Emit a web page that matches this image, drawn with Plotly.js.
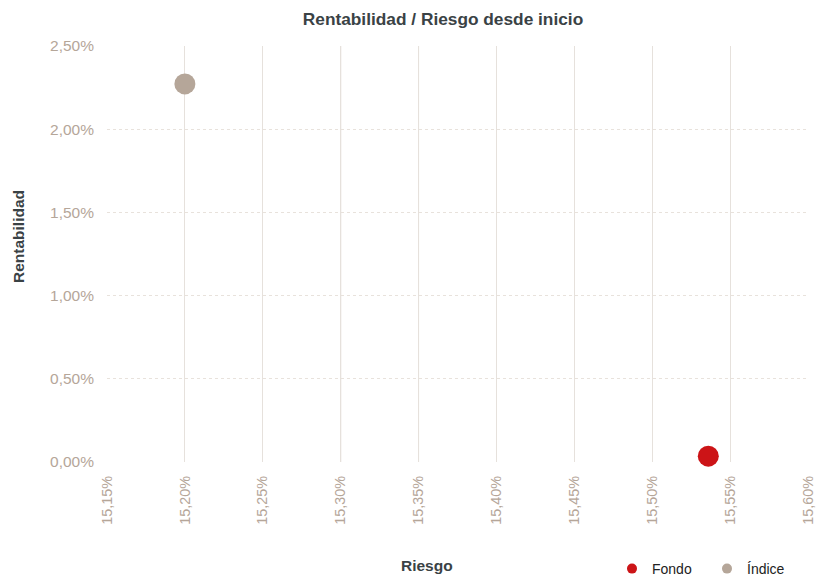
<!DOCTYPE html>
<html><head><meta charset="utf-8">
<script src="https://cdn.plot.ly/plotly-3.0.1.min.js"></script>
<style>html,body{margin:0;padding:0;background:#fff}#chart{width:827px;height:576px}</style>
</head><body><div id="chart"></div>
<script>
const seriesNames = ["Fondo", "Índice"];
const riesgo = [15.536, 15.20];
const rentabilidad = [0.035, 2.272];
const seriesColors = ["#cc1417", "#b5a699"];
const xTicks = [15.15, 15.20, 15.25, 15.30, 15.35, 15.40, 15.45, 15.50, 15.55, 15.60];
const yTicks = [0, 0.5, 1.0, 1.5, 2.0, 2.5];
const darkGridX = [15.30, 15.35];

const fmt = v => v.toFixed(2).replace(".", ",") + "%";
const FONT = "Liberation Sans, Arial, sans-serif";

const traces = seriesNames.map((n, i) => ({
  type: "scatter", mode: "markers", name: n, showlegend: false,
  x: [riesgo[i]], y: [rentabilidad[i]],
  marker: {color: seriesColors[i], size: 21},
  cliponaxis: false
})).concat(seriesNames.map((n, i) => ({
  type: "scatter", mode: "markers", name: n, showlegend: true,
  x: [null], y: [null],
  marker: {color: seriesColors[i], size: 10}
})));

const layout = {
  width: 827, height: 576,
  margin: {l: 107, r: 19, t: 46, b: 114},
  paper_bgcolor: "#fff", plot_bgcolor: "#fff",
  showlegend: true,
  legend: {orientation: "h", xref: "container", x: 612 / 827, xanchor: "left",
    yref: "container", y: 7 / 576, yanchor: "middle",
    font: {family: FONT, size: 14, color: "#222"},
    entrywidth: 50, entrywidthmode: "pixels",
    itemsizing: "trace", itemwidth: 30, tracegroupgap: 0, bgcolor: "rgba(0,0,0,0)"},
  title: {text: "<b>Rentabilidad / Riesgo desde inicio</b>", xref: "container", x: 443 / 827, xanchor: "center",
    yref: "container", y: 1 - 19 / 576, yanchor: "middle",
    font: {family: FONT, size: 17.3, color: "#3a4245"}},
  xaxis: {range: [15.15, 15.60], tickvals: xTicks, ticktext: xTicks.map(fmt),
    tickangle: -90, tickfont: {family: FONT, size: 14.4, color: "#b5a699"},
    ticklabelstandoff: 10,
    showgrid: true, gridcolor: "#e6e1dc", gridwidth: 1,
    zeroline: false, showline: false, ticks: "", automargin: false, fixedrange: true},
  yaxis: {range: [0, 2.5], tickvals: yTicks, ticktext: yTicks.map(fmt),
    tickfont: {family: FONT, size: 15.5, color: "#b5a699"},
    ticklabelstandoff: 12,
    showgrid: true, gridcolor: "#e8e2dc", griddash: "dot", gridwidth: 1,
    zeroline: false, showline: false, ticks: "", automargin: false, fixedrange: true},
  shapes: darkGridX.map(v => ({type: "line", xref: "x", yref: "paper", x0: v, x1: v, y0: 0, y1: 1,
    line: {color: "#cfc6bd", width: 1}, layer: "below"})),
  annotations: [
    {text: "<b>Riesgo</b>", xref: "paper", yref: "paper", x: (427 - 107) / 701, y: (462 - 565) / 416,
     xanchor: "center", yanchor: "middle", showarrow: false,
     font: {family: FONT, size: 15.5, color: "#3a4245"}},
    {text: "<b>Rentabilidad</b>", xref: "paper", yref: "paper", x: (18 - 107) / 701, y: (462 - 237) / 416,
     xanchor: "center", yanchor: "middle", showarrow: false, textangle: -90,
     font: {family: FONT, size: 15.5, color: "#3a4245"}}
  ]
};
Plotly.newPlot("chart", traces, layout, {displayModeBar: false, staticPlot: true});
</script></body></html>
